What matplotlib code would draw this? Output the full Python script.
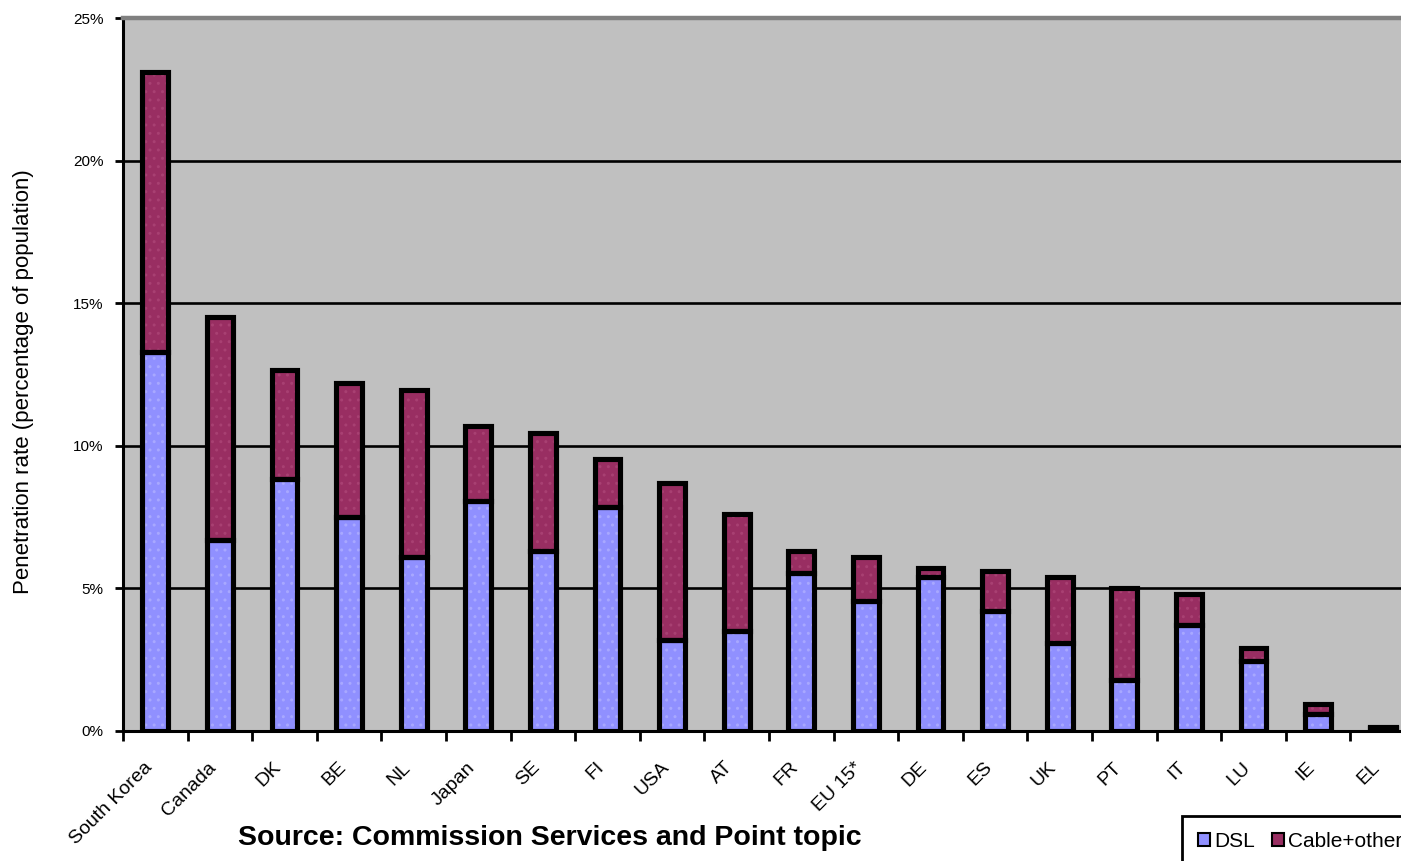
import matplotlib.pyplot as plt
from matplotlib.patches import Patch
from matplotlib.transforms import ScaledTranslation
import numpy as np

plt.rcParams['font.family'] = ['Liberation Sans', 'DejaVu Sans']

countries = ["South Korea", "Canada", "DK", "BE", "NL", "Japan", "SE", "FI",
             "USA", "AT", "FR", "EU 15*", "DE", "ES", "UK", "PT", "IT", "LU",
             "IE", "EL"]
total = [23.1, 14.5, 12.65, 12.2, 11.95, 10.7, 10.45, 9.55, 8.7, 7.6,
         6.3, 6.1, 5.7, 5.6, 5.4, 5.0, 4.8, 2.9, 0.95, 0.15]
dsl = [13.3, 6.7, 8.85, 7.5, 6.1, 8.05, 6.3, 7.85, 3.2, 3.5,
       5.55, 4.55, 5.4, 4.2, 3.1, 1.8, 3.7, 2.45, 0.6, 0.1]
cable = [t - d for t, d in zip(total, dsl)]
yticks = [0, 5, 10, 15, 20, 25]

blue = '#9090FF'
blue_dot = '#A8A8FF'
purple = '#992E62'
purple_dot = '#A84072'

W, H = 1401, 861
fig = plt.figure(figsize=(W / 100, H / 100), dpi=100)
# plot area runs past the right edge of the picture, as in the original crop
ax = fig.add_axes([123 / W, 1 - 731 / H, 1292 / W, 713 / H])
ax.set_facecolor('#C0C0C0')

x = np.arange(len(countries))
bw = 0.40
ax.bar(x, dsl, width=bw, color=blue, edgecolor=blue_dot, linewidth=0,
       hatch='..', zorder=3)
ax.bar(x, cable, bottom=dsl, width=bw, color=purple, edgecolor=purple_dot,
       linewidth=0, hatch='..', zorder=3)
ax.bar(x, dsl, width=bw, fill=False, edgecolor='black', linewidth=3.7, zorder=4)
ax.bar(x, cable, bottom=dsl, width=bw, fill=False, edgecolor='black',
       linewidth=3.7, zorder=4)

ax.set_xlim(-0.5, len(countries) - 0.5)
ax.set_ylim(0, 25)
ax.set_yticks(yticks)
ax.set_yticklabels([f"{v}%" for v in yticks], fontsize=11)
ax.yaxis.grid(True, color='black', linewidth=1.9, zorder=1)
ax.set_axisbelow(True)

ax.set_xticks(np.arange(len(countries) + 1) - 0.5)
ax.set_xticklabels([])
ax.set_xticks(x, minor=True)
ax.set_xticklabels(countries, minor=True, rotation=45, ha='right', va='top',
                   rotation_mode='anchor', fontsize=14)
ax.tick_params(axis='x', which='major', direction='out', length=7, width=2)
ax.tick_params(axis='x', which='minor', length=0, pad=20)
ax.tick_params(axis='y', direction='out', length=6, width=2, pad=8)
shift = ScaledTranslation(-0.12, 0, fig.dpi_scale_trans)
for lab in ax.get_xticklabels(minor=True):
    lab.set_transform(lab.get_transform() + shift)

for s in ['left', 'bottom']:
    ax.spines[s].set_linewidth(2.2)
    ax.spines[s].set_color('black')
ax.spines['top'].set_color('#808080')
ax.spines['top'].set_linewidth(3.2)
ax.spines['right'].set_visible(False)

ax.set_ylabel("Penetration rate (percentage of population)", fontsize=16)
ax.yaxis.set_label_coords(-0.069, 0.49)

fig.text(238 / W, 1 - 838 / H, "Source: Commission Services and Point topic",
         fontsize=20.5, fontweight='bold', va='center', ha='left')

handles = [Patch(facecolor=blue, edgecolor='black', linewidth=1.5, label='DSL'),
           Patch(facecolor=purple, edgecolor='black', linewidth=1.5,
                 label='Cable+other')]
leg = fig.legend(handles=handles, loc='upper left',
                 bbox_to_anchor=(1182 / W, 1 - 816 / H), ncol=2, fontsize=15,
                 handlelength=0.6, handleheight=0.6, handletextpad=0.2,
                 columnspacing=0.8, borderpad=0.75, borderaxespad=0,
                 fancybox=False, framealpha=1, edgecolor='black')
leg.get_frame().set_linewidth(2)

fig.savefig('out.png', dpi=100)
